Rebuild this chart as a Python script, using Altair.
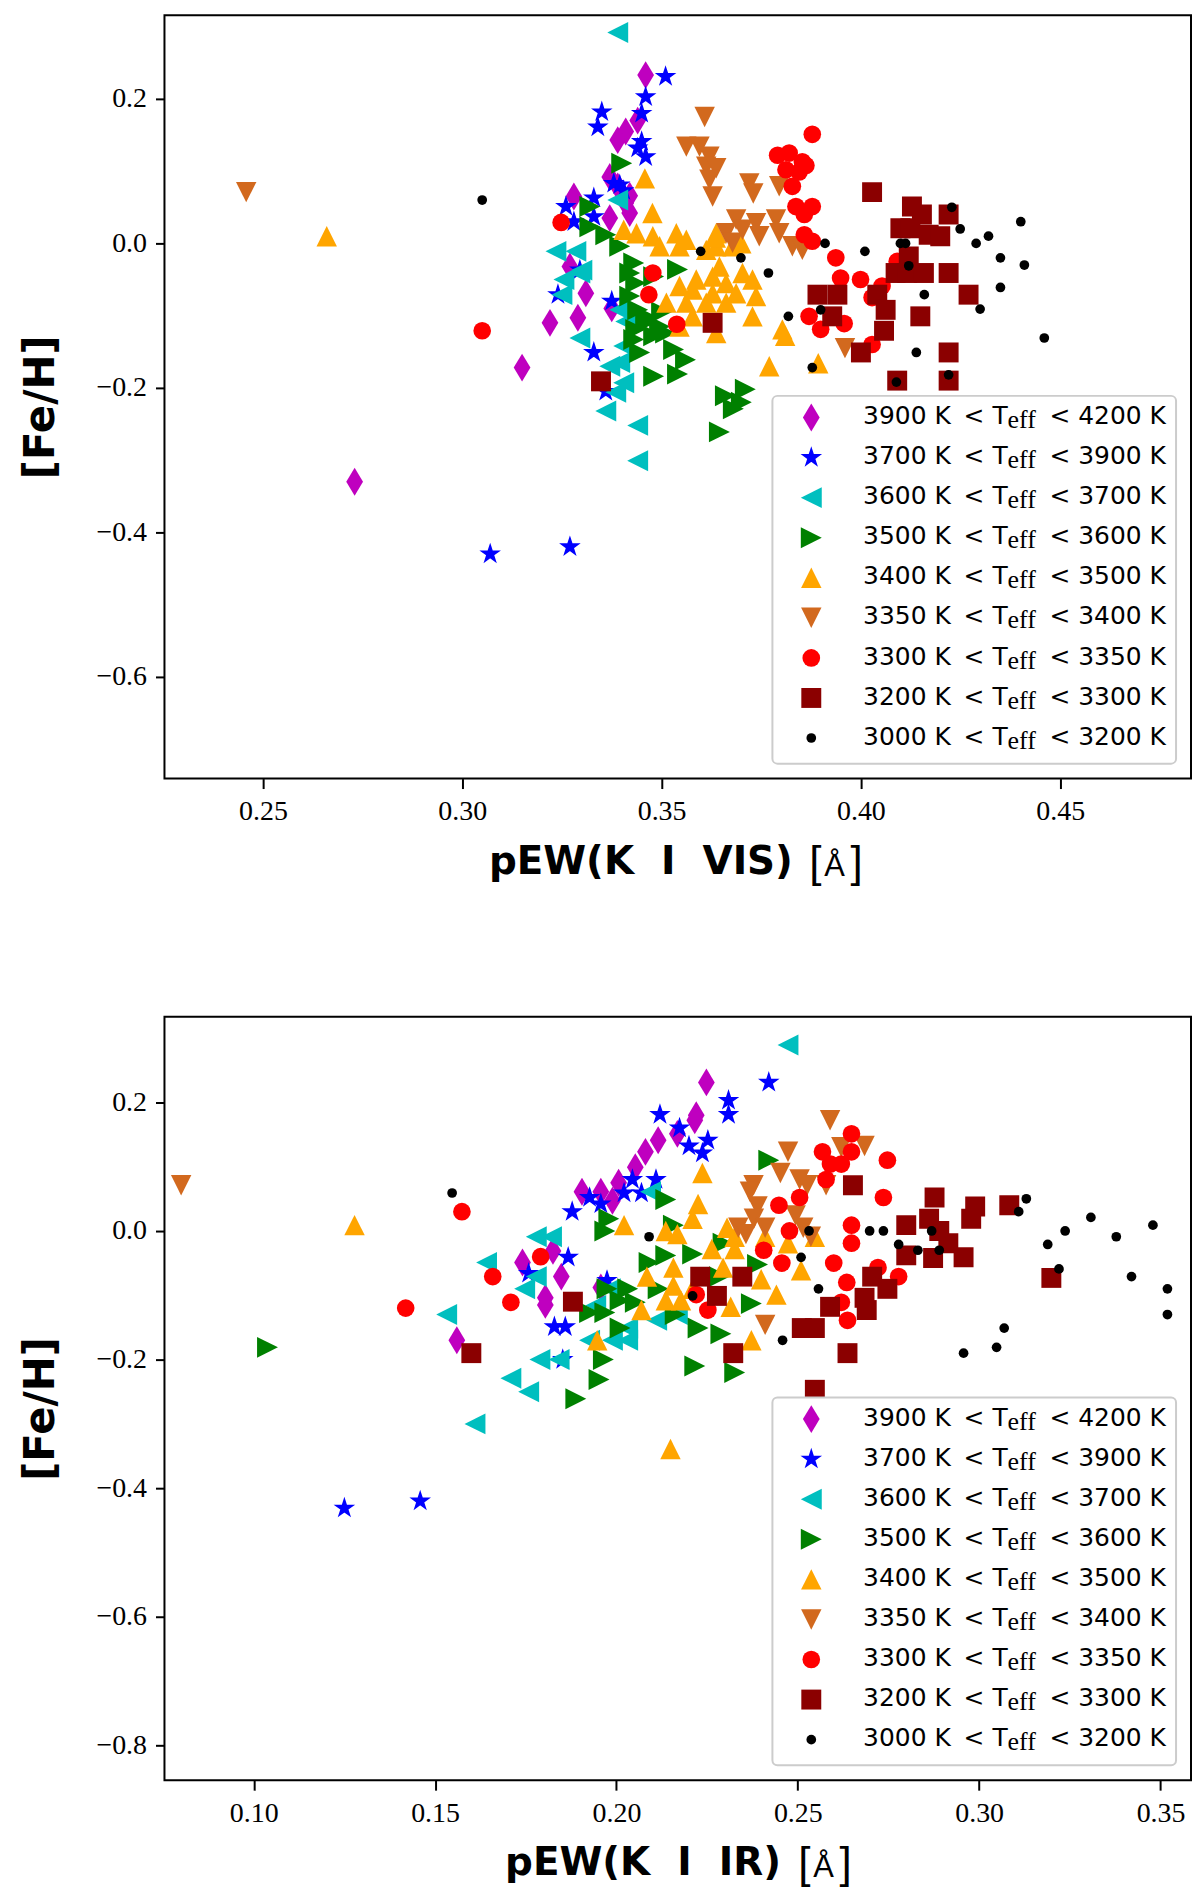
import altair as alt
import pandas as pd

# temperature bins, in legend order (also drawing order)
t_low = [3900, 3700, 3600, 3500, 3400, 3350, 3300, 3200, 3000]
t_high = [4200, 3900, 3700, 3600, 3500, 3400, 3350, 3300, 3200]
colors = ["#bf00bf", "#0000ff", "#00bfbf", "#008000", "#ffa500",
          "#d2691e", "#ff0000", "#8b0000", "#000000"]

star = ("M0,-1L0.2245,-0.309L0.951,-0.309L0.3633,0.118L0.588,0.809L0,0.382"
        "L-0.588,0.809L-0.3633,0.118L-0.951,-0.309L-0.2245,-0.309Z")
shapes = ["M0,-1L0.6,0L0,1L-0.6,0Z", star, "M-1,0L1,-1L1,1Z", "M1,0L-1,-1L-1,1Z",
          "M0,-1L1,1L-1,1Z", "M0,1L-1,-1L1,-1Z", "circle", "square", "circle"]
sizes = [784, 320, 440, 440, 420, 420, 314, 400, 95]
edges = [0, 1.5, 0, 0, 0, 0, 0, 0, 0]

# ---- pEW(K I VIS) panel ----
vis_x_3900 = [0.346, 0.344, 0.341, 0.339, 0.337, 0.339, 0.342, 0.341, 0.342, 0.328, 0.337,
              0.327, 0.331, 0.329, 0.322, 0.315, 0.273, 0.3375]
vis_y_3900 = [0.233, 0.170, 0.155, 0.143, 0.092, 0.079, 0.066, 0.056, 0.042, 0.065, 0.035,
              -0.032, -0.069, -0.103, -0.110, -0.172, -0.330, -0.090]
vis_x_3700 = [0.351, 0.346, 0.345, 0.335, 0.334, 0.345, 0.344, 0.346, 0.338, 0.3395, 0.3405,
              0.326, 0.333, 0.328, 0.333, 0.324, 0.3295, 0.333, 0.3375, 0.336, 0.307, 0.327]
vis_y_3700 = [0.231, 0.203, 0.180, 0.182, 0.161, 0.141, 0.132, 0.120, 0.083, 0.081, 0.073,
              0.051, 0.063, 0.030, 0.037, -0.071, -0.037, -0.151, -0.080, -0.205, -0.430, -0.420]
vis_x_3600 = [0.339, 0.339, 0.3235, 0.3285, 0.3255, 0.3295, 0.325, 0.3295, 0.3395, 0.341,
              0.3405, 0.337, 0.3395, 0.3405, 0.3385, 0.336, 0.344, 0.344, 0.330]
vis_y_3600 = [0.292, 0.060, -0.011, -0.011, -0.050, -0.041, -0.071, -0.131, -0.092, -0.108,
              -0.142, -0.170, -0.165, -0.193, -0.206, -0.232, -0.252, -0.301, -0.037]
vis_x_3500 = [0.340, 0.332, 0.332, 0.336, 0.3395, 0.343, 0.342, 0.3435, 0.348, 0.354, 0.342,
              0.344, 0.346, 0.3435, 0.343, 0.348, 0.3495, 0.351, 0.3445, 0.353, 0.356, 0.348,
              0.354, 0.366, 0.371, 0.370, 0.368, 0.3645, 0.3465, 0.350]
vis_y_3500 = [0.111, 0.051, 0.023, 0.012, -0.004, -0.027, -0.041, -0.055, -0.046, -0.036, -0.073,
              -0.092, -0.101, -0.119, -0.133, -0.128, -0.115, -0.124, -0.151, -0.147, -0.161, -0.184,
              -0.181, -0.211, -0.202, -0.220, -0.229, -0.261, -0.108, -0.095]
vis_x_3400 = [0.266, 0.3458, 0.3477, 0.3405, 0.3437, 0.3478, 0.3495, 0.3537, 0.3545, 0.3562,
              0.3612, 0.3637, 0.3637, 0.3678, 0.3645, 0.3587, 0.3628, 0.3662, 0.3703, 0.3728,
              0.3545, 0.3578, 0.3628, 0.3687, 0.3512, 0.3562, 0.3612, 0.3662, 0.3737, 0.3728,
              0.3578, 0.3545, 0.3637, 0.3803, 0.381, 0.377, 0.3893, 0.370, 0.3636]
vis_y_3400 = [0.010, 0.090, 0.042, 0.019, 0.014, 0.010, -0.004, 0.014, -0.004, 0.005,
              -0.009, 0.014, -0.004, -0.004, -0.032, -0.050, -0.046, -0.055, -0.041, -0.050,
              -0.059, -0.064, -0.069, -0.069, -0.082, -0.082, -0.082, -0.082, -0.073, -0.101,
              -0.101, -0.115, -0.124, -0.119, -0.128, -0.170, -0.166, 0.000, 0.008]
vis_x_3350 = [0.2458, 0.3608, 0.3562, 0.3595, 0.3620, 0.3612, 0.3637, 0.3620, 0.3628, 0.372,
              0.373, 0.3795, 0.3687, 0.3703, 0.3737, 0.3745, 0.3787, 0.3795, 0.3662, 0.3678,
              0.3828, 0.3853, 0.396]
vis_y_3350 = [0.071, 0.175, 0.134, 0.134, 0.120, 0.106, 0.104, 0.088, 0.065, 0.083,
              0.069, 0.079, 0.033, 0.019, 0.028, 0.010, 0.033, 0.014, 0.014, 0.001,
              -0.004, -0.009, -0.145]
vis_x_3300 = [0.305, 0.3248, 0.3478, 0.3468, 0.3538, 0.3878, 0.3791, 0.382, 0.3853, 0.3812,
              0.3845, 0.3862, 0.3828, 0.3837, 0.3878, 0.3858, 0.3858, 0.3878, 0.3937, 0.3949,
              0.3999, 0.4053, 0.4028, 0.387, 0.3899, 0.3958, 0.4028, 0.4091]
vis_y_3300 = [-0.121, 0.029, -0.041, -0.071, -0.112, 0.151, 0.122, 0.125, 0.113, 0.102,
              0.099, 0.108, 0.079, 0.051, 0.051, 0.040, 0.012, 0.003, -0.020, -0.048,
              -0.050, -0.059, -0.075, -0.101, -0.119, -0.111, -0.140, -0.025]
vis_x_3200 = [0.3348, 0.3628, 0.4028, 0.4128, 0.4153, 0.422, 0.4099, 0.4124, 0.417, 0.4199,
              0.412, 0.4087, 0.4116, 0.4158, 0.422, 0.3891, 0.3941, 0.4041, 0.3928, 0.4062,
              0.4149, 0.427, 0.4058, 0.400, 0.422, 0.4091, 0.422]
vis_y_3200 = [-0.191, -0.110, 0.071, 0.051, 0.040, 0.040, 0.021, 0.021, 0.012, 0.010,
              -0.018, -0.041, -0.041, -0.041, -0.041, -0.071, -0.071, -0.071, -0.101, -0.092,
              -0.101, -0.071, -0.121, -0.151, -0.151, -0.190, -0.190]
vis_x_3000 = [0.305, 0.3598, 0.3699, 0.3768, 0.3818, 0.391, 0.401, 0.3899, 0.3878, 0.4099,
              0.4112, 0.412, 0.4228, 0.4249, 0.4289, 0.432, 0.4401, 0.435, 0.441, 0.435,
              0.4159, 0.4299, 0.446, 0.4139, 0.4089, 0.422]
vis_y_3000 = [0.060, -0.011, -0.020, -0.041, -0.101, 0.000, -0.011, -0.092, -0.172, 0.000,
              0.000, -0.031, 0.050, 0.020, 0.000, 0.010, 0.030, -0.020, -0.030, -0.061,
              -0.071, -0.091, -0.131, -0.151, -0.192, -0.182]

# ---- pEW(K I IR) panel ----
ir_x_3900 = [0.2248, 0.2216, 0.222, 0.2168, 0.2115, 0.208, 0.2052, 0.2006, 0.1957, 0.1905,
             0.1989, 0.1825, 0.1741, 0.1848, 0.1804, 0.156, 0.1804, 0.1957]
ir_y_3900 = [0.231, 0.172, 0.180, 0.151, 0.141, 0.123, 0.099, 0.075, 0.061, 0.061,
             0.047, -0.031, -0.049, -0.071, -0.104, -0.170, -0.115, -0.088]
ir_x_3700 = [0.125, 0.1459, 0.242, 0.2309, 0.2309, 0.212, 0.2174, 0.220, 0.2237, 0.2252,
             0.2044, 0.2109, 0.2069, 0.2021, 0.1926, 0.1957, 0.1878, 0.1867, 0.1829, 0.1859,
             0.1852, 0.1974, 0.1758]
ir_y_3700 = [-0.431, -0.420, 0.231, 0.203, 0.181, 0.181, 0.160, 0.132, 0.121, 0.141,
             0.080, 0.080, 0.059, 0.059, 0.052, 0.042, 0.030, -0.041, -0.149, -0.149,
             -0.200, -0.077, -0.066]
ir_x_3600 = [0.2473, 0.2094, 0.1779, 0.1821, 0.1642, 0.1747, 0.1779, 0.1532, 0.1709, 0.1758,
             0.161, 0.1789, 0.1842, 0.1983, 0.1989, 0.1926, 0.2031, 0.2031, 0.2111, 0.2168,
             0.1943]
ir_y_3600 = [0.289, 0.061, -0.009, -0.009, -0.049, -0.090, -0.071, -0.130, -0.229, -0.250,
             -0.300, -0.200, -0.200, -0.090, -0.170, -0.170, -0.151, -0.170, -0.139, -0.130,
             -0.116]
ir_x_3500 = [0.1038, 0.242, 0.2136, 0.1979, 0.1968, 0.2157, 0.2294, 0.221, 0.209, 0.2136,
             0.1974, 0.2031, 0.201, 0.1926, 0.1968, 0.201, 0.2052, 0.2115, 0.1964, 0.1952,
             0.1888, 0.2225, 0.2288, 0.2216, 0.2326, 0.2372, 0.2162, 0.2389, 0.2284]
ir_y_3500 = [-0.181, 0.110, 0.049, 0.019, 0.000, 0.009, -0.019, -0.036, -0.049, -0.038,
             -0.090, -0.090, -0.108, -0.127, -0.127, -0.151, -0.111, -0.090, -0.200, -0.231,
             -0.261, -0.151, -0.160, -0.210, -0.220, -0.113, -0.130, -0.052, -0.071]
ir_x_3400 = [0.1278, 0.2149, 0.2237, 0.2225, 0.221, 0.2021, 0.2136, 0.2168, 0.2305, 0.2326,
             0.2263, 0.2326, 0.241, 0.2473, 0.2157, 0.2084, 0.2157, 0.221, 0.2136, 0.2178,
             0.2069, 0.2315, 0.2399, 0.2441, 0.2509, 0.2294, 0.2372, 0.1947, 0.2547]
ir_y_3400 = [0.009, -0.339, 0.090, 0.042, 0.019, 0.009, 0.000, -0.005, 0.005, -0.009,
             -0.028, -0.028, -0.009, -0.019, -0.057, -0.071, -0.085, -0.090, -0.108, -0.108,
             -0.123, -0.118, -0.075, -0.099, -0.061, -0.057, -0.170, -0.170, -0.009]
ir_x_3350 = [0.080, 0.2589, 0.262, 0.2473, 0.2452, 0.2505, 0.2378, 0.2368, 0.2526, 0.2389,
             0.2379, 0.2494, 0.2515, 0.241, 0.2336, 0.2357, 0.2536, 0.241, 0.2578, 0.2684]
ir_y_3350 = [0.071, 0.172, 0.130, 0.123, 0.090, 0.080, 0.071, 0.061, 0.071, 0.038,
             0.019, 0.024, 0.005, 0.005, 0.005, -0.005, -0.009, -0.146, 0.071, 0.132]
ir_x_3300 = [0.2648, 0.2568, 0.259, 0.262, 0.2578, 0.2648, 0.2747, 0.2736, 0.2505, 0.2448,
             0.2477, 0.2648, 0.2648, 0.2406, 0.2456, 0.2599, 0.2635, 0.2721, 0.2778, 0.262,
             0.2637, 0.222, 0.2252, 0.1574, 0.1791, 0.1659, 0.1709, 0.1419]
ir_y_3300 = [0.151, 0.123, 0.104, 0.104, 0.080, 0.123, 0.110, 0.052, 0.052, 0.040,
             0.000, 0.009, -0.019, -0.030, -0.050, -0.050, -0.080, -0.057, -0.071, -0.111,
             -0.139, -0.099, -0.123, 0.030, -0.040, -0.071, -0.111, -0.120]
ir_x_3200 = [0.2652, 0.2877, 0.2799, 0.2862, 0.289, 0.2989, 0.2978, 0.3083, 0.2915, 0.2799,
             0.2873, 0.2957, 0.2705, 0.2747, 0.2684, 0.269, 0.2589, 0.2511, 0.2547, 0.2637,
             0.2547, 0.2322, 0.3199, 0.2231, 0.2347, 0.2277, 0.188, 0.160]
ir_y_3200 = [0.071, 0.052, 0.009, 0.019, 0.000, 0.038, 0.019, 0.040, -0.019, -0.038,
             -0.042, -0.041, -0.071, -0.090, -0.104, -0.123, -0.118, -0.151, -0.151, -0.190,
             -0.247, -0.190, -0.073, -0.071, -0.071, -0.101, -0.110, -0.190]
ir_x_3000 = [0.1547, 0.209, 0.221, 0.2458, 0.2509, 0.2531, 0.2557, 0.2698, 0.2736, 0.2778,
             0.2831, 0.289, 0.2869, 0.3109, 0.313, 0.3189, 0.322, 0.3237, 0.3308, 0.3378,
             0.3479, 0.342, 0.3519, 0.3519, 0.3069, 0.3048, 0.2957]
ir_y_3000 = [0.059, -0.009, -0.101, -0.170, -0.041, 0.000, -0.090, 0.000, 0.000, -0.021,
             -0.030, -0.030, 0.000, 0.030, 0.050, -0.021, -0.059, 0.000, 0.021, -0.009,
             0.009, -0.071, -0.090, -0.130, -0.151, -0.181, -0.190]

vis_x = [vis_x_3900, vis_x_3700, vis_x_3600, vis_x_3500, vis_x_3400, vis_x_3350, vis_x_3300, vis_x_3200, vis_x_3000]
vis_y = [vis_y_3900, vis_y_3700, vis_y_3600, vis_y_3500, vis_y_3400, vis_y_3350, vis_y_3300, vis_y_3200, vis_y_3000]
ir_x = [ir_x_3900, ir_x_3700, ir_x_3600, ir_x_3500, ir_x_3400, ir_x_3350, ir_x_3300, ir_x_3200, ir_x_3000]
ir_y = [ir_y_3900, ir_y_3700, ir_y_3600, ir_y_3500, ir_y_3400, ir_y_3350, ir_y_3300, ir_y_3200, ir_y_3000]

W, H = 1030, 766
LEG_FONT = "DejaVu Sans"
SERIF = "Liberation Serif"
TITLE_BASE = 95  # x-title baseline below the plot
NB = "\u00a0\u00a0"  # the wide word gaps of the original title


def legend_layers():
    box = alt.Chart(pd.DataFrame({"a": [0]})).mark_rect(
        fill="white", stroke="#cccccc", strokeWidth=2, cornerRadius=5
    ).encode(x=alt.value(610), x2=alt.value(1015), y=alt.value(382), y2=alt.value(751))
    out = [box]
    for i, (lo, hi) in enumerate(zip(t_low, t_high)):
        ry = 403.7 + 40.2 * i
        row = pd.DataFrame({"left": [f"{lo} K\u2009\u00a0<\u00a0T"],
                            "right": [f"< {hi} K"]})
        base = alt.Chart(row)
        out.append(base.mark_point(shape=shapes[i], size=sizes[i], color=colors[i],
                                   filled=True, opacity=1, stroke=colors[i],
                                   strokeWidth=edges[i])
                   .encode(x=alt.value(649), y=alt.value(ry)))
        out.append(base.mark_text(align="right", baseline="alphabetic", font=LEG_FONT,
                                  fontSize=25, color="black")
                   .encode(x=alt.value(846), y=alt.value(ry + 6.7), text="left:N"))
        out.append(base.mark_text(align="left", baseline="alphabetic", font=SERIF,
                                  fontSize=26, color="black", text="eff")
                   .encode(x=alt.value(846), y=alt.value(ry + 10.7)))
        out.append(base.mark_text(align="left", baseline="alphabetic", font=LEG_FONT,
                                  fontSize=25, color="black")
                   .encode(x=alt.value(888), y=alt.value(ry + 6.7), text="right:N"))
    return out


def unit_layers(left):
    # "[Å]" after the bold title: tall thin brackets around a smaller Å
    one = alt.Chart(pd.DataFrame({"a": [0]}))
    return [
        one.mark_text(text="[", font="Liberation Sans", fontSize=44, align="left",
                      baseline="alphabetic", color="black")
        .encode(x=alt.value(left - 3), y=alt.value(H + TITLE_BASE + 3.5)),
        one.mark_text(text="Å", font="Liberation Sans", fontSize=31, align="left",
                      baseline="alphabetic", color="black")
        .encode(x=alt.value(left + 12), y=alt.value(H + TITLE_BASE + 2.5)),
        one.mark_text(text="]", font="Liberation Sans", fontSize=44, align="right",
                      baseline="alphabetic", color="black")
        .encode(x=alt.value(left + 50.5), y=alt.value(H + TITLE_BASE + 3.5)),
    ]


def panel(xs, ys, xdom, ydom, xticks, yticks, xtitle, title_right, unit_left):
    xenc = alt.X("x:Q", scale=alt.Scale(domain=xdom, nice=False, zero=False),
                 axis=alt.Axis(values=xticks, format=".2f", title=xtitle, tickSize=10,
                               titleX=title_right, titleY=TITLE_BASE, titleAlign="right",
                               titleBaseline="alphabetic", titleFontSize=39,
                               labelFlush=False))
    yenc = alt.Y("y:Q", scale=alt.Scale(domain=ydom, nice=False, zero=False),
                 axis=alt.Axis(values=yticks, format=".1f", title="[Fe/H]", tickSize=9,
                               titleX=-124, titleY=393, titleBaseline="middle",
                               titleAlign="center", titleFontSize=42, labelFlush=False))
    layers = []
    for i in range(len(t_low)):
        df = pd.DataFrame({"x": xs[i], "y": ys[i]})
        layers.append(alt.Chart(df).mark_point(
            shape=shapes[i], size=sizes[i], color=colors[i], filled=True, opacity=1,
            stroke=colors[i], strokeWidth=edges[i], clip=True).encode(x=xenc, y=yenc))
    return alt.layer(*layers, *legend_layers(), *unit_layers(unit_left)).properties(
        width=W, height=H)


top = panel(vis_x, vis_y, [0.2253, 0.4828], [-0.741, 0.316],
            [0.25, 0.30, 0.35, 0.40, 0.45], [-0.6, -0.4, -0.2, 0.0, 0.2],
            f"pEW(K{NB}I{NB}VIS)", 630, 650)
bottom = panel(ir_x, ir_y, [0.0754, 0.3584], [-0.854, 0.333],
               [0.10, 0.15, 0.20, 0.25, 0.30, 0.35], [-0.8, -0.6, -0.4, -0.2, 0.0, 0.2],
               f"pEW(K{NB}I{NB}IR)", 618, 639)

chart = alt.vconcat(top, bottom, spacing=129).properties(
    padding={"left": 11, "top": 3, "right": 0, "bottom": 0},
    background="white",
).configure_view(
    stroke="black", strokeWidth=2
).configure_axis(
    labelFont=SERIF, labelFontSize=28, labelColor="black", labelPadding=9,
    tickColor="black", tickWidth=2, domain=False, grid=False,
    titleFont="DejaVu Sans", titleFontWeight="bold", titleColor="black",
)

chart.save("out.html", embed_options={"renderer": "svg", "actions": False})
